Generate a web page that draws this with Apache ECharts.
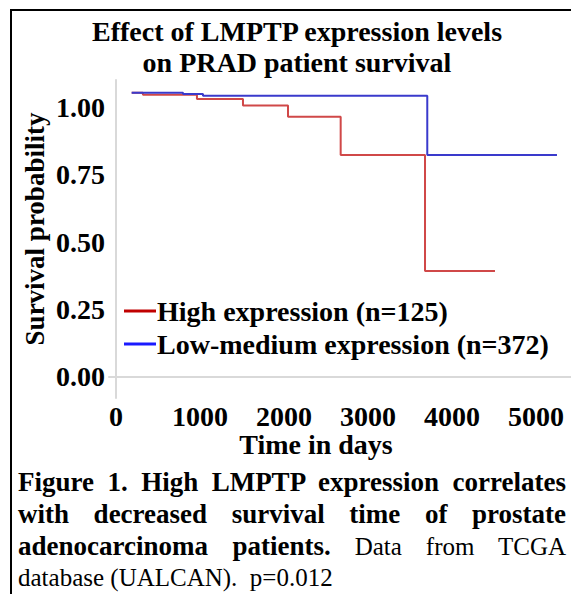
<!DOCTYPE html>
<html><head><meta charset="utf-8">
<script src="https://cdn.jsdelivr.net/npm/echarts@6/dist/echarts.min.js"></script>
<style>
html,body{margin:0;padding:0;background:#fff;width:571px;height:594px;overflow:hidden;}
#frame{position:absolute;left:10px;top:9px;width:600px;height:620px;border:2px solid #000;box-sizing:border-box;}
#chart{position:absolute;left:0;top:0;width:571px;height:594px;}
#cap{position:absolute;left:18px;top:466px;width:548px;font-family:"Liberation Serif",serif;font-size:25px;line-height:32px;color:#000;}
#cap div{height:32px;text-align:justify;text-align-last:justify;white-space:nowrap;}
#cap div.last{text-align:left;text-align-last:left;}
#cap b{font-weight:bold;font-size:27px;}
</style></head>
<body>
<div id="frame"></div>
<div id="chart"></div>
<div id="cap">
<div><b>Figure 1. High LMPTP expression correlates</b></div>
<div><b>with decreased survival time of prostate</b></div>
<div><b>adenocarcinoma patients.</b> Data from TCGA</div>
<div class="last">database (UALCAN). &nbsp;p=0.012</div>
</div>
<script>
// Data (days, survival probability)
const highDays = [187, 321, 964, 1512, 2048, 2675, 3679, 4512];
const highSurv = [1.054, 1.046, 1.031, 1.006, 0.965, 0.823, 0.393, 0.393];
const lowDays = [187, 798, 1036, 3706, 5250];
const lowSurv = [1.054, 1.049, 1.043, 0.823, 0.823];
const xTicks = [0, 1000, 2000, 3000, 4000, 5000];
const yTicks = [0, 0.25, 0.5, 0.75, 1.0];
const highName = 'High expression (n=125)';
const lowName = 'Low-medium expression (n=372)';

const serif = '"Liberation Serif", "DejaVu Serif", serif';
const chart = echarts.init(document.getElementById('chart'), null, {renderer: 'svg'});
const pair = (xs, ys) => xs.map((x, i) => [x, ys[i]]);
chart.setOption({
  backgroundColor: 'transparent',
  animation: false,
  grid: {left: 109, right: 0, top: 80, bottom: 196, containLabel: false},
  xAxis: {
    type: 'value', min: -83, max: 5417,
    axisLine: {show: true, lineStyle: {color: '#d9d9d9', width: 2}},
    axisTick: {show: false}, splitLine: {show: false},
    axisLabel: {customValues: xTicks, margin: 4, color: '#000', fontSize: 28, fontWeight: 'bold', fontFamily: serif,
      formatter: v => String(v)}
  },
  yAxis: {
    type: 'value', min: -0.078, max: 1.101,
    axisLine: {show: true, lineStyle: {color: '#d9d9d9', width: 2}},
    axisTick: {show: false}, splitLine: {show: false},
    axisLabel: {customValues: yTicks, margin: 4, color: '#000', fontSize: 28, fontWeight: 'bold', fontFamily: serif,
      formatter: v => v.toFixed(2)}
  },
  legend: {
    orient: 'vertical', left: 124, top: 297, padding: 0, itemWidth: 32, itemHeight: 3, itemGap: 5, icon: 'rect',
    textStyle: {color: '#000', fontSize: 28, fontWeight: 'bold', fontFamily: serif, padding: [0, 0, 0, -4]},
    data: [{name: highName, itemStyle: {color: '#c00000'}}, {name: lowName, itemStyle: {color: '#1a1aff'}}]
  },
  graphic: [
    {type: 'text', x: 297, y: 16, style: {text: 'Effect of LMPTP expression levels\non PRAD patient survival', font: 'bold 28px ' + serif, fill: '#000', textAlign: 'center', lineHeight: 31}},
    {type: 'text', x: 35, y: 229, rotation: Math.PI / 2, style: {text: 'Survival probability', font: 'bold 27px ' + serif, fill: '#000', textAlign: 'center', textVerticalAlign: 'middle'}},
    {type: 'text', x: 316, y: 444, style: {text: 'Time in days', font: 'bold 28px ' + serif, fill: '#000', textAlign: 'center', textVerticalAlign: 'middle'}}
  ],
  series: [
    {name: highName, type: 'line', step: 'end', showSymbol: false, data: pair(highDays, highSurv), lineStyle: {color: '#d04848', width: 2}, itemStyle: {color: '#d04848'}},
    {name: lowName, type: 'line', step: 'end', showSymbol: false, data: pair(lowDays, lowSurv), lineStyle: {color: '#3a3acc', width: 2}, itemStyle: {color: '#3a3acc'}}
  ]
});
</script>
</body></html>
